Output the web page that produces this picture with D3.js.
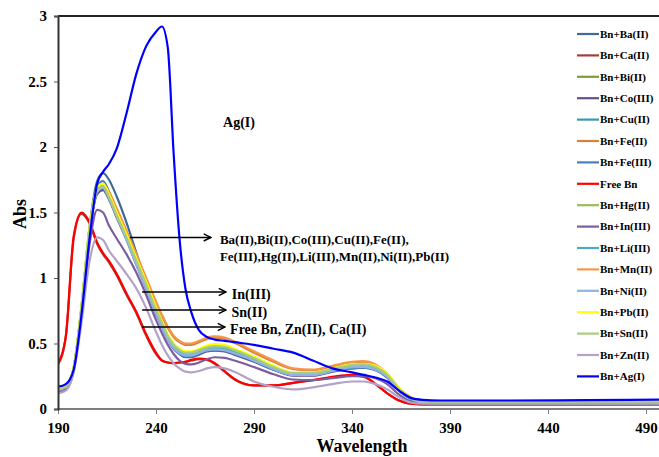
<!DOCTYPE html>
<html>
<head>
<meta charset="utf-8">
<script src="https://cdn.jsdelivr.net/npm/d3@7"></script>
<style>
  body { margin: 0; background: #fff; }
  svg { display: block; }
  text { font-family: "Liberation Serif", "Times New Roman", serif; font-weight: bold; fill: #000; }
</style>
</head>
<body>
<svg id="chart" width="659" height="457"></svg>
<script>
// wavelength grid (nm) shared by all spectra
const wavelengths = [190,194,198,202,206,210,213,216,220,225,230,235,240,243,246,249,252,255,258,262,266,270,275,280,290,300,310,320,330,340,346,352,358,364,370,376,385,420,460,500];

// absorbance, one array per series
const baAbs   = [0.15,0.17,0.31,0.78,1.38,1.74,1.80,1.75,1.62,1.42,1.19,0.97,0.76,0.65,0.55,0.48,0.43,0.405,0.405,0.425,0.445,0.455,0.45,0.425,0.37,0.305,0.26,0.26,0.29,0.315,0.32,0.30,0.245,0.14,0.08,0.05,0.045,0.045,0.045,0.045];
const caAbs   = [0.34,0.55,1.30,1.49,1.42,1.26,1.18,1.12,1.02,0.87,0.73,0.56,0.42,0.37,0.355,0.35,0.355,0.36,0.37,0.38,0.375,0.345,0.285,0.225,0.18,0.18,0.20,0.22,0.24,0.255,0.245,0.19,0.12,0.065,0.04,0.035,0.035,0.035,0.035,0.035];
const biAbs   = [0.15,0.17,0.31,0.77,1.34,1.65,1.68,1.61,1.47,1.30,1.12,0.94,0.75,0.65,0.55,0.48,0.44,0.42,0.42,0.44,0.46,0.47,0.465,0.44,0.38,0.315,0.27,0.27,0.30,0.33,0.335,0.315,0.255,0.15,0.085,0.055,0.05,0.05,0.05,0.05];
const coAbs   = [0.15,0.17,0.31,0.76,1.34,1.64,1.67,1.60,1.46,1.29,1.10,0.92,0.73,0.63,0.53,0.46,0.42,0.395,0.395,0.415,0.44,0.445,0.44,0.415,0.36,0.30,0.255,0.255,0.285,0.31,0.315,0.295,0.24,0.14,0.08,0.05,0.045,0.045,0.045,0.045];
const cuAbs   = [0.15,0.17,0.31,0.77,1.35,1.67,1.71,1.63,1.48,1.30,1.11,0.93,0.74,0.64,0.54,0.47,0.435,0.415,0.415,0.435,0.455,0.465,0.46,0.435,0.375,0.31,0.265,0.265,0.295,0.325,0.33,0.31,0.25,0.145,0.08,0.05,0.045,0.045,0.045,0.045];
const fe2Abs  = [0.16,0.18,0.30,0.76,1.33,1.67,1.70,1.65,1.52,1.35,1.17,0.99,0.81,0.71,0.62,0.55,0.51,0.49,0.49,0.51,0.535,0.545,0.535,0.505,0.43,0.36,0.305,0.295,0.325,0.355,0.36,0.335,0.265,0.155,0.088,0.058,0.05,0.05,0.05,0.05];
const fe3Abs  = [0.15,0.17,0.31,0.77,1.36,1.70,1.74,1.66,1.50,1.31,1.11,0.92,0.73,0.63,0.53,0.46,0.42,0.40,0.40,0.42,0.445,0.45,0.445,0.42,0.365,0.30,0.26,0.26,0.29,0.31,0.315,0.30,0.245,0.14,0.08,0.05,0.045,0.045,0.045,0.045];
const freeAbs = [0.35,0.56,1.32,1.50,1.43,1.27,1.19,1.13,1.03,0.88,0.74,0.57,0.43,0.37,0.355,0.35,0.355,0.36,0.375,0.385,0.38,0.35,0.29,0.23,0.18,0.18,0.20,0.22,0.245,0.26,0.25,0.19,0.12,0.065,0.04,0.035,0.035,0.035,0.035,0.035];
const hgAbs   = [0.15,0.17,0.31,0.78,1.35,1.66,1.69,1.61,1.47,1.30,1.12,0.94,0.75,0.65,0.55,0.48,0.44,0.42,0.42,0.44,0.46,0.47,0.465,0.44,0.38,0.315,0.27,0.27,0.30,0.33,0.335,0.315,0.255,0.15,0.085,0.055,0.05,0.05,0.05,0.05];
const inAbs   = [0.13,0.15,0.29,0.72,1.25,1.52,1.50,1.40,1.30,1.18,1.04,0.87,0.68,0.58,0.49,0.42,0.37,0.345,0.34,0.355,0.38,0.395,0.39,0.37,0.32,0.265,0.225,0.22,0.235,0.25,0.25,0.235,0.19,0.11,0.06,0.045,0.04,0.04,0.04,0.04];
const liAbs   = [0.15,0.17,0.31,0.77,1.35,1.66,1.70,1.62,1.48,1.30,1.11,0.93,0.74,0.64,0.54,0.47,0.43,0.41,0.41,0.43,0.45,0.46,0.455,0.43,0.37,0.305,0.262,0.262,0.292,0.32,0.325,0.305,0.248,0.143,0.08,0.05,0.045,0.045,0.045,0.045];
const mnAbs   = [0.16,0.18,0.30,0.76,1.34,1.68,1.71,1.66,1.53,1.36,1.18,1.00,0.82,0.72,0.63,0.56,0.52,0.50,0.50,0.52,0.545,0.555,0.545,0.515,0.44,0.37,0.31,0.30,0.33,0.36,0.365,0.34,0.27,0.16,0.09,0.06,0.05,0.05,0.05,0.05];
const niAbs   = [0.15,0.17,0.31,0.77,1.35,1.66,1.69,1.61,1.47,1.29,1.10,0.92,0.73,0.63,0.53,0.465,0.425,0.41,0.41,0.43,0.45,0.455,0.45,0.425,0.37,0.305,0.26,0.26,0.29,0.32,0.322,0.30,0.245,0.14,0.08,0.05,0.045,0.045,0.045,0.045];
const pbAbs   = [0.16,0.18,0.32,0.80,1.38,1.69,1.72,1.64,1.50,1.33,1.15,0.97,0.78,0.67,0.57,0.50,0.46,0.44,0.44,0.46,0.485,0.495,0.49,0.46,0.40,0.33,0.28,0.28,0.31,0.34,0.345,0.33,0.27,0.16,0.09,0.065,0.06,0.058,0.058,0.06];
const snAbs   = [0.15,0.17,0.31,0.78,1.36,1.67,1.70,1.62,1.48,1.31,1.13,0.95,0.76,0.66,0.56,0.49,0.45,0.43,0.43,0.45,0.47,0.48,0.475,0.45,0.39,0.32,0.275,0.275,0.305,0.335,0.34,0.32,0.26,0.15,0.085,0.055,0.05,0.05,0.05,0.05];
const znAbs   = [0.12,0.14,0.28,0.66,1.12,1.31,1.29,1.21,1.13,1.03,0.92,0.77,0.59,0.49,0.41,0.35,0.31,0.285,0.28,0.29,0.31,0.32,0.31,0.285,0.21,0.17,0.15,0.165,0.19,0.21,0.21,0.19,0.15,0.09,0.05,0.04,0.04,0.04,0.04,0.04];
const agAbs   = [0.17,0.19,0.30,0.72,1.29,1.72,1.81,1.87,1.99,2.26,2.56,2.77,2.88,2.92,2.76,1.95,1.30,0.92,0.74,0.60,0.55,0.53,0.52,0.51,0.49,0.46,0.43,0.37,0.31,0.28,0.26,0.24,0.21,0.14,0.085,0.07,0.065,0.065,0.068,0.072];

const seriesNames  = ["Bn+Ba(II)","Bn+Ca(II)","Bn+Bi(II)","Bn+Co(III)","Bn+Cu(II)","Bn+Fe(II)","Bn+Fe(III)","Free Bn","Bn+Hg(II)","Bn+In(III)","Bn+Li(III)","Bn+Mn(II)","Bn+Ni(II)","Bn+Pb(II)","Bn+Sn(II)","Bn+Zn(II)","Bn+Ag(I)"];
const seriesValues = [baAbs,caAbs,biAbs,coAbs,cuAbs,fe2Abs,fe3Abs,freeAbs,hgAbs,inAbs,liAbs,mnAbs,niAbs,pbAbs,snAbs,znAbs,agAbs];
const seriesColors = ["#3d6b9a","#a33e3b","#7f9c3d","#664f8a","#3a9ab5","#d5813a","#4a7fc0","#ff0000","#9bbb59","#7b5ea0","#4bacc6","#f79646","#8eb4e3","#ffff00","#a9cc82","#b2a2c7","#0000ff"];

const xTicks = [190,240,290,340,390,440,490];
const yTicks = [0,0.5,1,1.5,2,2.5,3];

// annotations: label lines, arrow start / end wavelength, text wavelength, abs level
const notes = [
  {lines: ["Ba(II),Bi(II),Co(III),Cu(II),Fe(II),", "Fe(III),Hg(II),Li(III),Mn(II),Ni(II),Pb(II)"], x0: 226.7, x1: 268, tx: 272.6, y: 1.31, size: 13},
  {lines: ["In(III)"], x0: 232.9, x1: 275.7, tx: 278.7, y: 0.893, size: 14},
  {lines: ["Sn(II)"], x0: 232.9, x1: 275.7, tx: 278.5, y: 0.756, size: 14},
  {lines: ["Free Bn, Zn(II), Ca(II)"], x0: 232.9, x1: 275.2, tx: 277.8, y: 0.626, size: 14}
];

const svg = d3.select("#chart");
const x = d3.scaleLinear().domain([190, 490]).range([58, 646]);
const y = d3.scaleLinear().domain([0, 3]).range([409, 16]);

svg.append("defs").append("clipPath").attr("id", "plotclip")
  .append("rect").attr("x", 58).attr("y", 0).attr("width", 601).attr("height", 410);

// spectra
const line = d3.line()
  .x((d, i) => x(wavelengths[i]))
  .y(d => y(d))
  .curve(d3.curveMonotoneX);

svg.append("g").attr("clip-path", "url(#plotclip)")
  .selectAll("path")
  .data(seriesValues)
  .enter()
  .append("path")
  .attr("d", line)
  .attr("fill", "none")
  .attr("stroke", (d, i) => seriesColors[i])
  .attr("stroke-width", 2.2)
  .attr("stroke-linejoin", "round");

// top frame line
svg.append("line")
  .attr("x1", 58).attr("x2", 659)
  .attr("y1", y(3)).attr("y2", y(3))
  .attr("stroke", "#222").attr("stroke-width", 2);

// axes
const xAxis = svg.append("g")
  .attr("transform", "translate(0," + y(0) + ")")
  .call(d3.axisBottom(x).tickValues(xTicks).tickSize(5).tickPadding(8).tickFormat(d3.format("d")));
xAxis.select(".domain").attr("stroke", "#7f7f7f").attr("stroke-width", 2).attr("d", "M58,0H659");
xAxis.selectAll(".tick line").attr("stroke", "#7f7f7f");
xAxis.selectAll("text").style("font-size", "15px");

const yAxis = svg.append("g")
  .attr("transform", "translate(" + x(190) + ",0)")
  .call(d3.axisLeft(y).tickValues(yTicks).tickSize(4).tickPadding(7).tickFormat(d => d));
yAxis.select(".domain").attr("stroke", "#333").attr("stroke-width", 2);
yAxis.selectAll(".tick line").attr("stroke", "#555");
yAxis.selectAll("text").style("font-size", "15px");

// axis titles
svg.append("text")
  .attr("x", 362).attr("y", 452)
  .attr("text-anchor", "middle")
  .style("font-size", "18px")
  .text("Wavelength");

svg.append("text")
  .attr("transform", "translate(26,214) rotate(-90)")
  .attr("text-anchor", "middle")
  .style("font-size", "18px")
  .text("Abs");

// arrows + labels
svg.append("defs").append("marker")
  .attr("id", "arrowhead")
  .attr("viewBox", "0 0 10 10")
  .attr("refX", 9).attr("refY", 5)
  .attr("markerWidth", 9).attr("markerHeight", 9)
  .attr("markerUnits", "userSpaceOnUse")
  .attr("orient", "auto")
  .append("path")
  .attr("d", "M1,1 L9,5 L1,9")
  .attr("fill", "none")
  .attr("stroke", "#000")
  .attr("stroke-width", 1.6);

notes.forEach(n => {
  svg.append("line")
    .attr("x1", x(n.x0)).attr("x2", x(n.x1))
    .attr("y1", y(n.y)).attr("y2", y(n.y))
    .attr("stroke", "#000").attr("stroke-width", 1.5)
    .attr("marker-end", "url(#arrowhead)");
  n.lines.forEach((t, k) => {
    svg.append("text")
      .attr("x", x(n.tx))
      .attr("y", y(n.y) + 2 + k * 17)
      .attr("dy", "0.35em")
      .style("font-size", n.size + "px")
      .text(t);
  });
});

svg.append("text")
  .attr("x", x(274.2)).attr("y", y(2.19))
  .attr("dy", "0.35em")
  .style("font-size", "14px")
  .text("Ag(I)");

// legend
const legend = svg.append("g")
  .selectAll("g")
  .data(seriesNames)
  .enter()
  .append("g")
  .attr("transform", (d, i) => "translate(577," + (34 + i * 21.4) + ")");

legend.append("line")
  .attr("x1", 0).attr("x2", 22)
  .attr("stroke", (d, i) => seriesColors[i])
  .attr("stroke-width", 2.2);

legend.append("text")
  .attr("x", 23).attr("dy", "0.35em")
  .style("font-size", "11px")
  .text(d => d);
</script>
</body>
</html>
